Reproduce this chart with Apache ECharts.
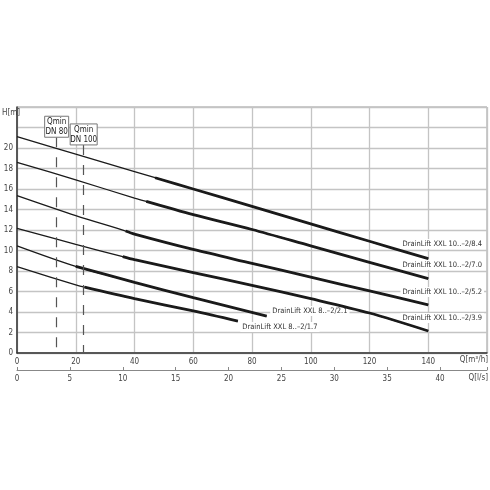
<!DOCTYPE html>
<html><head><meta charset="utf-8">
<script src="https://cdn.jsdelivr.net/npm/echarts@6/dist/echarts.min.js"></script>
<style>html,body{margin:0;padding:0;background:#fff}#c{width:490px;height:490px}</style>
</head><body><div id="c"></div>
<script>
// ---- data (Q in m³/h, H in m) ----
const qTicks = [0, 20, 40, 60, 80, 100, 120, 140];
const hTicks = [0, 2, 4, 6, 8, 10, 12, 14, 16, 18, 20];
const lsTicks = [0, 5, 10, 15, 20, 25, 30, 35, 40];

const curve84 = [[0,21.1],[20,19.4],[40,17.7],[47,17.1],[60,16.0],[80,14.3],[100,12.6],[120,10.9],[140,9.2]];
const curve70 = [[0,18.6],[20,16.9],[40,15.1],[44,14.8],[60,13.5],[80,12.05],[100,10.45],[120,8.85],[140,7.25]];
const curve52 = [[0,15.35],[20,13.4],[37,11.9],[40,11.6],[60,10.1],[80,8.75],[100,7.4],[120,6.05],[140,4.7]];
const curve39 = [[0,12.17],[20,10.6],[36,9.4],[40,9.1],[60,7.85],[80,6.6],[100,5.3],[120,3.9],[140,2.15]];
const curve21 = [[0,10.45],[20,8.45],[40,6.9],[60,5.4],[85,3.6]];
const curve17 = [[0,8.42],[20,6.65],[23,6.42],[40,5.3],[60,4.1],[75.2,3.1]];

const curves = [curve84, curve70, curve52, curve39, curve21, curve17];
const thickFrom = [3, 3, 2, 2, 1, 2];
const curveNames = ['DrainLift XXL 10..–2/8.4','DrainLift XXL 10..–2/7.0','DrainLift XXL 10..–2/5.2','DrainLift XXL 10..–2/3.9','DrainLift XXL 8..–2/2.1','DrainLift XXL 8..–2/1.7'];
// label anchors [Q, H, align]
const labelAnchors = [[159,10.63,'right'],[159,8.59,'right'],[159,5.95,'right'],[159,3.41,'right'],[86.2,4.1,'left'],[76,2.54,'left']];

const qminValues = [13.5, 22.7];
const qminTop = [21.05, 20.3];
const qminLabels = [['Qmin','DN 80'],['Qmin','DN 100']];

const FONT = '"Liberation Sans Narrow","DejaVu Sans Condensed","Roboto Condensed",sans-serif';

const chart = echarts.init(document.getElementById('c'), null, {renderer:'canvas'});

const series = [];
curves.forEach((c, i) => {
  series.push({type:'line', data:c, smooth:0.3, symbol:'none', silent:true,
    lineStyle:{color:'#1a1a1a', width:1.3}, z:3,
    markLine: i===0 ? {
      silent:true, symbol:'none', label:{show:false},
      lineStyle:{color:'#555', width:1.2, type:[10,10]},
      data: qminValues.map((q,k)=>[{coord:[q,qminTop[k]]},{coord:[q,0]}])
    } : undefined
  });
  series.push({type:'line', data:c.slice(thickFrom[i]), smooth:0.3, symbol:'none', silent:true,
    lineStyle:{color:'#1a1a1a', width:2.8}, z:4});
});

chart.setOption({
  animation:false,
  backgroundColor:'#fff',
  grid:{left:17, right:1, top:107, bottom:137, show:true, borderColor:'#999', borderWidth:1, containLabel:false},
  xAxis:[
    {type:'value', min:0, max:160, interval:20, position:'bottom',
      axisLine:{show:true, lineStyle:{color:'#333', width:1.5}},
      axisTick:{show:false},
      axisLabel:{color:'#444', fontSize:8, fontFamily:FONT, margin:5,
        formatter:v=> qTicks.includes(v) ? String(v) : ''},
      splitLine:{show:true, lineStyle:{color:'#c4c4c4', width:1.3}}},
    {type:'value', min:0, max:160/3.6, interval:5, position:'bottom', offset:17,
      axisLine:{show:true, lineStyle:{color:'#888', width:1}},
      axisTick:{show:true, inside:true, length:3, lineStyle:{color:'#888'}},
      axisLabel:{color:'#444', fontSize:8, fontFamily:FONT, margin:5,
        formatter:v=> lsTicks.includes(Math.round(v*1000)/1000) ? String(v) : ''},
      splitLine:{show:false}}
  ],
  yAxis:{type:'value', min:0, max:24, interval:2,
    axisLine:{show:true, lineStyle:{color:'#333', width:1.5}},
    axisTick:{show:false},
    axisLabel:{color:'#444', fontSize:8, fontFamily:FONT, margin:4,
      formatter:v=> hTicks.includes(v) ? String(v) : ''},
    splitLine:{show:true, lineStyle:{color:'#c4c4c4', width:1.3}}},
  series
});

// annotations
const g = [];
const pxX = q => chart.convertToPixel({xAxisIndex:0}, q);
const pxY = h => chart.convertToPixel({yAxisIndex:0}, h);
labelAnchors.forEach((a,i)=>{
  g.push({type:'text', x:pxX(a[0]), y:pxY(a[1]), z:1,
    style:{text:curveNames[i], fill:'#333', font:'7.5px '+FONT, align:a[2], verticalAlign:'middle',
      backgroundColor:'#fff', padding:[1,2]}});
});
qminValues.forEach((q,k)=>{
  const cx = pxX(q), bottom = pxY(qminTop[k]);
  const w = k===0 ? 24 : 27, h = 21;
  g.push({type:'rect', shape:{x:cx-w/2, y:bottom-h, width:w, height:h}, z:10,
    style:{fill:'#fff', stroke:'#777', lineWidth:1}});
  g.push({type:'text', x:cx, y:bottom-h/2, z:11,
    style:{text:qminLabels[k].join('\n'), fill:'#222', font:'8px '+FONT, align:'center', verticalAlign:'middle', lineHeight:10}});
});
g.push({type:'text', x:2, y:113, style:{text:'H[m]', fill:'#444', font:'8px '+FONT, verticalAlign:'middle'}});
g.push({type:'text', x:488, y:360, style:{text:'Q[m³/h]', fill:'#444', font:'8px '+FONT, align:'right', verticalAlign:'middle'}});
g.push({type:'text', x:488, y:378, style:{text:'Q[l/s]', fill:'#444', font:'8px '+FONT, align:'right', verticalAlign:'middle'}});
chart.setOption({graphic:g});
</script></body></html>
